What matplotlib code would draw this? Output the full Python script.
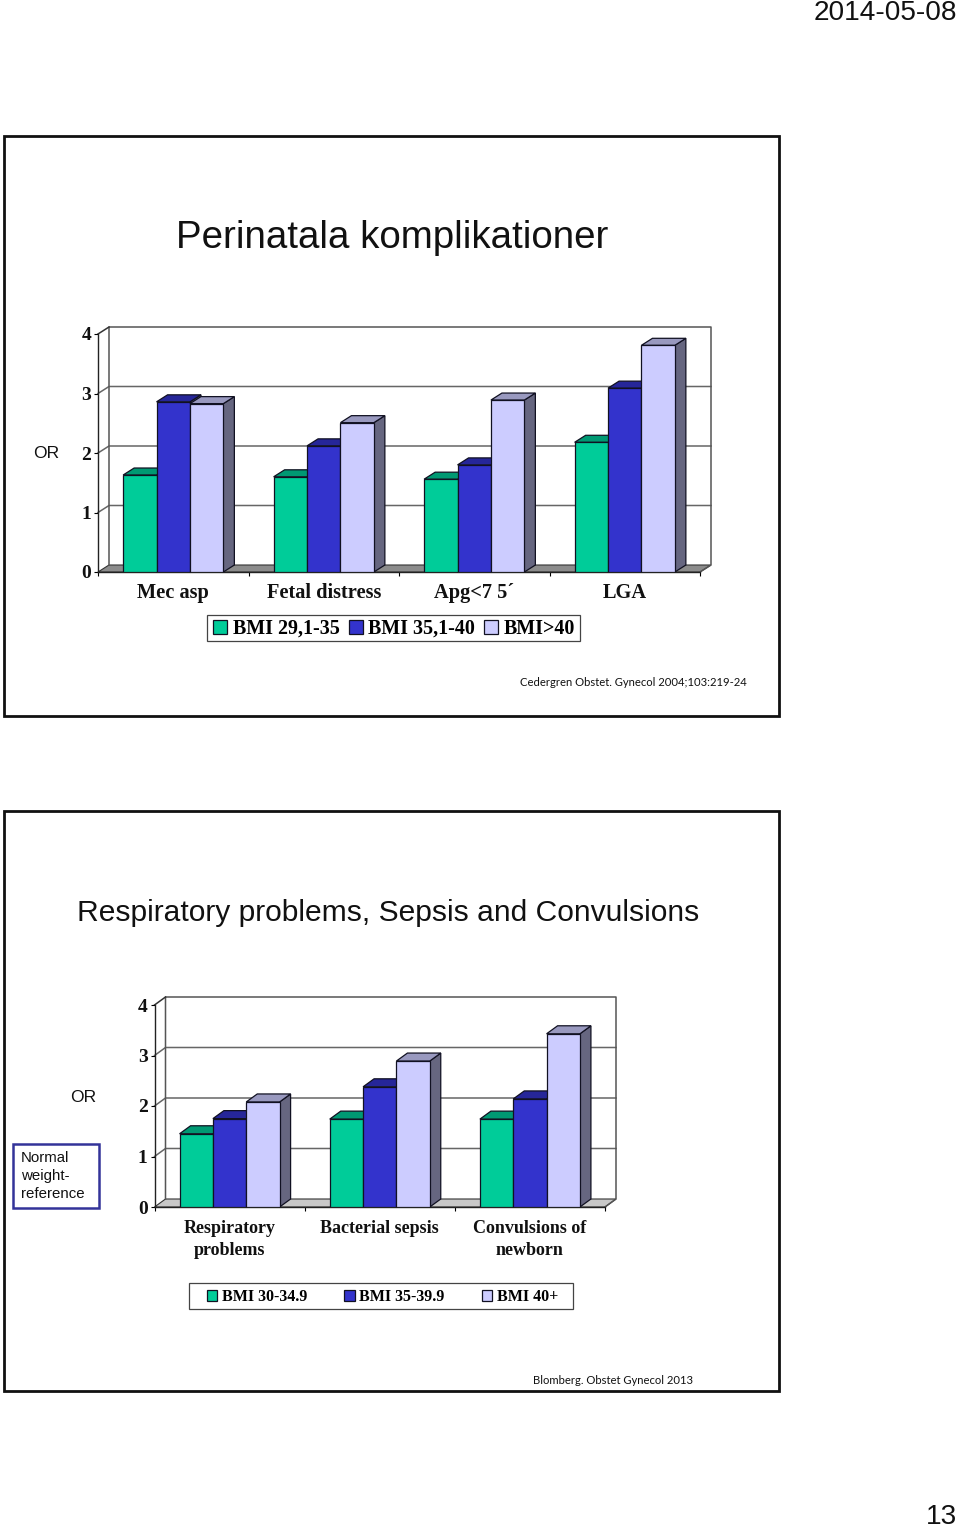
#!/usr/bin/env python3
"""Two slides with pseudo-3D grouped bar charts of odds ratios by BMI class."""

import matplotlib

matplotlib.use("Agg")
import matplotlib.pyplot as plt
import numpy as np
from matplotlib.patches import Polygon, Rectangle

W, H = 960, 1527

top_categories = ["Mec asp", "Fetal distress", "Apg<7 5´", "LGA"]
top_series = ["BMI 29,1-35", "BMI 35,1-40", "BMI>40"]
top_low = [1.63, 1.60, 1.56, 2.18]
top_mid = [2.86, 2.12, 1.80, 3.09]
top_high = [2.83, 2.51, 2.89, 3.81]

bottom_categories = ["Respiratory\nproblems", "Bacterial sepsis", "Convulsions of\nnewborn"]
bottom_series = ["BMI 30-34.9", "BMI 35-39.9", "BMI 40+"]
bottom_low = [1.45, 1.74, 1.74]
bottom_mid = [1.75, 2.38, 2.14]
bottom_high = [2.08, 2.89, 3.43]

y_ticks = [0, 1, 2, 3, 4]

FRONT = ["#00cc99", "#3333cc", "#ccccff"]
TOP = ["#009973", "#262699", "#9999bf"]
SIDE = "#666680"
LINE = "#111122"
SANS = "Liberation Sans"
SERIF = "Liberation Serif"

plt.rcParams.update({"font.family": SANS})
fig = plt.figure(figsize=(W / 100, H / 100), dpi=100, facecolor="white")


def fx(x):
    return x / W


def fy(y):
    return 1 - y / H


def label(x, y, text, px, **kw):
    kw.setdefault("va", "center")
    kw.setdefault("color", "#111111")
    fig.text(fx(x), fy(y), text, fontsize=px * 0.72, **kw)


def frame(x0, y0, x1, y1, color="#111111", lw=2.0):
    fig.add_artist(Rectangle((fx(x0), fy(y1)), fx(x1 - x0), (y1 - y0) / H,
                             transform=fig.transFigure, fill=False,
                             edgecolor=color, linewidth=lw))


def bar_chart(box, depth, categories, series_values, floor, name_px, name_pad):
    left, right, y0, y4 = box
    ax = fig.add_axes([fx(left), fy(y0), fx(right - left), (y0 - y4) / H])
    ax.patch.set_alpha(0)
    n = len(categories)
    ax.set_xlim(0, n)
    ax.set_ylim(0, 4)
    dx = depth[0] * n / (right - left)
    dy = depth[1] * 4 / (y0 - y4)

    def poly(pts, **kw):
        ax.add_patch(Polygon(pts, closed=True, clip_on=False, **kw))

    # walls and floor sit behind everything
    poly([(0, 0), (dx, dy), (n + dx, dy), (n, 0)], facecolor=floor,
         edgecolor="#333333", linewidth=0.8, zorder=1)
    for v in y_ticks[1:-1]:
        ax.plot([0, dx, n + dx], [v, v + dy, v + dy], color="#666666", lw=1.1,
                clip_on=False, zorder=1)
    ax.plot([dx, dx, n + dx, n + dx, n], [dy, 4 + dy, 4 + dy, dy, 0],
            color="#555555", lw=1.1, clip_on=False, zorder=1)
    ax.plot([0, dx], [4, 4 + dy], color="#333333", lw=1.1, clip_on=False, zorder=1)

    # bars, left to right so the next one covers the previous side face
    width = 0.222
    order = 3
    for c in range(n):
        for s, values in enumerate(series_values):
            xl = c + 0.5 + (s - 1.5) * width
            xr = xl + width
            v = values[c]
            poly([(xr, 0), (xr + dx, dy), (xr + dx, v + dy), (xr, v)], facecolor=SIDE,
                 edgecolor=LINE, linewidth=0.9, zorder=order)
            poly([(xl, v), (xl + dx, v + dy), (xr + dx, v + dy), (xr, v)],
                 facecolor=TOP[s], edgecolor=LINE, linewidth=0.9, zorder=order)
            ax.bar(xl, v, width, align="edge", color=FRONT[s], edgecolor=LINE,
                   linewidth=0.9, zorder=order + 1)
            order += 2

    for side in ("top", "right"):
        ax.spines[side].set_visible(False)
    for side in ("left", "bottom"):
        ax.spines[side].set_color("#222222")
        ax.spines[side].set_linewidth(1.0)
        ax.spines[side].set_zorder(2)
    ax.set_yticks(y_ticks)
    ax.set_yticklabels([str(v) for v in y_ticks], fontfamily=SERIF,
                       fontweight="bold", fontsize=14, color="#111111")
    ax.tick_params(axis="y", length=3, width=0.8, pad=2)
    ax.set_xticks(np.arange(n + 1))
    ax.set_xticklabels([])
    ax.tick_params(axis="x", which="major", length=3, width=0.8)
    ax.set_xticks(np.arange(n) + 0.5, minor=True)
    ax.set_xticklabels(categories, minor=True, fontfamily=SERIF, fontweight="bold",
                       fontsize=name_px * 0.72, color="#111111", linespacing=1.36)
    ax.tick_params(axis="x", which="minor", length=0, pad=name_pad)
    return ax


def legend(names, box, centre, swatch, px, gaps):
    handles = [Rectangle((0, 0), 1, 1, facecolor=c, edgecolor=LINE, linewidth=0.9)
               for c in FRONT]
    # frame drawn separately, the original has wider side padding than top padding
    frame(*box, color="#444444", lw=0.9)
    fig.legend(handles, names, ncols=3, loc="center",
               bbox_to_anchor=(fx(centre[0]), fy(centre[1])),
               prop={"family": SERIF, "weight": "bold", "size": px * 0.72},
               frameon=False, borderpad=0, handlelength=swatch[0],
               handleheight=swatch[1], handletextpad=gaps[0],
               columnspacing=gaps[1], borderaxespad=0)


# page furniture
label(957, 13, "2014-05-08", 28, ha="right")
label(957, 1517, "13", 28, ha="right")

# first slide
frame(4, 136, 779, 716)
label(392, 238, "Perinatala komplikationer", 38.5, ha="center")
label(33, 453, "OR", 17.5)
bar_chart((98, 700, 572, 334), (11, 7), top_categories,
          [top_low, top_mid, top_high], "#8c8c8c", 20.4, 8)
legend(top_series, (207, 615, 580, 641), (394, 629), (0.7, 0.7), 20, (0.28, 0.45))
label(520, 683, "Cedergren Obstet. Gynecol 2004;103:219-24", 11.3, family="Lato")

# second slide
frame(4, 811, 779, 1391)
label(388, 913, "Respiratory problems, Sepsis and Convulsions", 30, ha="center")
label(70, 1098, "OR", 17.5)
frame(12.5, 1144, 98.5, 1208, color="#333399", lw=1.8)
label(21, 1176, "Normal\nweight-\nreference", 15, linespacing=1.32)
bar_chart((154.5, 605, 1207, 1005), (11, 8), bottom_categories,
          [bottom_low, bottom_mid, bottom_high], "#c8c8c8", 18, 9.5)
legend(bottom_series, (189, 1283, 573, 1309), (382.5, 1297), (0.65, 0.65), 16, (0.3, 2.3))
label(533, 1381, "Blomberg. Obstet Gynecol 2013", 11.2, family="Lato")

fig.savefig("out.png", dpi=100)
